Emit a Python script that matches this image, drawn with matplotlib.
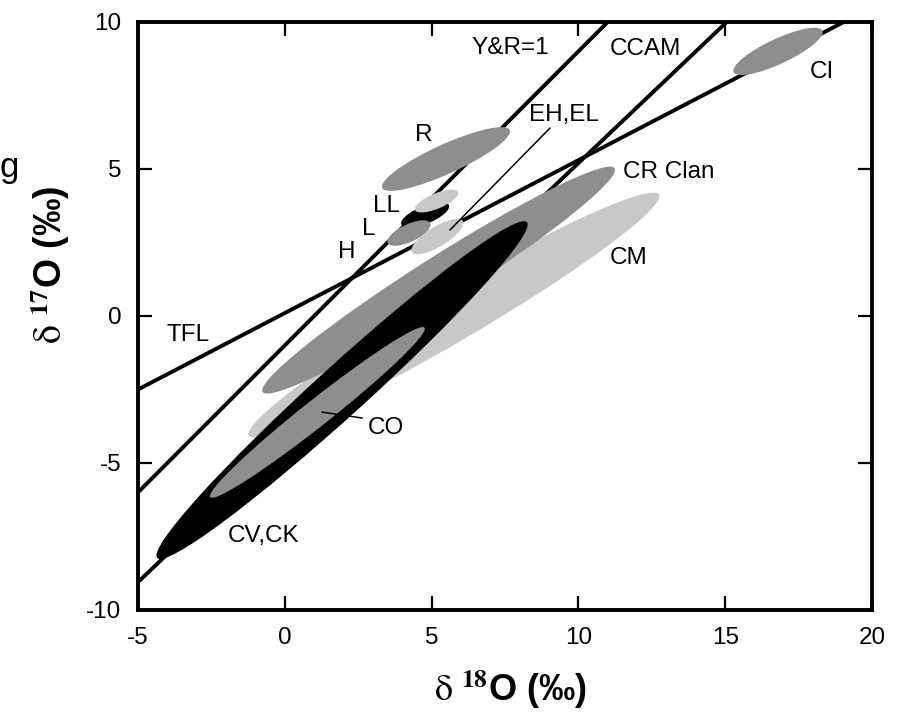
import numpy as np
import matplotlib
matplotlib.use("Agg")
import matplotlib.pyplot as plt
from matplotlib.patches import Ellipse

plt.rcParams["font.family"] = ["Liberation Sans", "DejaVu Sans"]
plt.rcParams["mathtext.fontset"] = "stix"
plt.rcParams["axes.unicode_minus"] = False

# reference lines: slope, intercept
line_names = ["TFL", "Y&R=1", "CCAM"]
line_slopes = [0.52, 1.0, 0.95]
line_intercepts = [0.1, -1.0, -4.3]

# oxygen isotope fields (delta18O, delta17O centre, long axis, short axis, tilt in deg)
field_names = ["CM", "CR Clan", "CV,CK", "CO", "R", "H", "LL", "L", "EH,EL", "CI"]
field_x = [5.76, 5.24, 1.95, 1.11, 5.49, 4.78, 5.17, 4.23, 5.20, 16.80]
field_y = [0.03, 1.22, -2.52, -3.28, 5.34, 3.44, 3.91, 2.82, 2.70, 9.00]
field_len = [16.2, 14.2, 17.0, 9.3, 4.77, 1.75, 1.59, 1.6, 2.03, 3.34]
field_wid = [1.75, 1.55, 1.7, 0.9, 1.0, 0.6, 0.52, 0.6, 0.68, 0.85]
field_ang = [30.4, 32.4, 42.2, 38.3, 24.4, 22.0, 22.7, 25.0, 31.3, 25.0]

DARK = "#8e8e8e"
LIGHT = "#c8c8c8"
field_colors = [LIGHT, DARK, "black", DARK, DARK, "black", LIGHT, DARK, LIGHT, DARK]

# label positions
label_text = ["Y&R=1", "CCAM", "CI", "EH,EL", "R", "LL", "L", "H",
              "CR Clan", "CM", "TFL", "CO", "CV,CK"]
label_x = [7.67, 12.30, 18.30, 9.51, 4.74, 3.48, 2.87, 2.12,
           13.09, 11.72, -3.30, 3.45, -0.74]
label_y = [9.12, 9.08, 8.30, 6.84, 6.16, 3.74, 2.96, 2.18,
           4.90, 1.97, -0.65, -3.81, -7.48]

# leader lines (x0, x1), (y0, y1)
leader_x = [[9.03, 5.63], [2.63, 1.27]]
leader_y = [[6.39, 2.93], [-3.47, -3.27]]

fig = plt.figure(figsize=(9.05, 7.26), dpi=100)
ax = fig.add_axes([0.1525, 0.1598, 0.8110, 0.8099])

xs = np.array([-5, 20])
for m, c in zip(line_slopes, line_intercepts):
    ax.plot(xs, m * xs + c, color="black", lw=2.8, zorder=2)

for i in range(len(field_names)):
    e = Ellipse((field_x[i], field_y[i]), field_len[i], field_wid[i],
                angle=field_ang[i], facecolor=field_colors[i],
                edgecolor="none", zorder=3 + i)
    ax.add_patch(e)

for lx, ly in zip(leader_x, leader_y):
    ax.plot(lx, ly, color="black", lw=1.1, zorder=20)

for t, x, y in zip(label_text, label_x, label_y):
    ax.text(x, y, t, fontsize=17.5, ha="center", va="center", zorder=21)

ax.set_xlim(-5, 20)
ax.set_ylim(-10, 10)
ax.set_xticks([-5, 0, 5, 10, 15, 20])
ax.set_yticks([-10, -5, 0, 5, 10])
ax.tick_params(direction="in", length=10, width=1.6, labelsize=17.5,
               top=True, right=True, pad=12)
for s in ax.spines.values():
    s.set_linewidth(2.8)

ax.set_xlabel(r"$\mathrm{\delta}\ ^{\mathbf{18}}$" + "O (‰)", fontsize=26,
              fontweight="bold", va="center")
ax.xaxis.set_label_coords(0.507, -0.136)
ax.set_ylabel(r"$\mathrm{\delta}\ ^{\mathbf{17}}$" + "O (‰)", fontsize=27,
              fontweight="bold", va="center")
ax.yaxis.set_label_coords(-0.12, 0.587)

fig.text(19 / 905, 1 - 168 / 726, "g", fontsize=25, ha="right", va="center")

fig.savefig("out.png", dpi=100)
